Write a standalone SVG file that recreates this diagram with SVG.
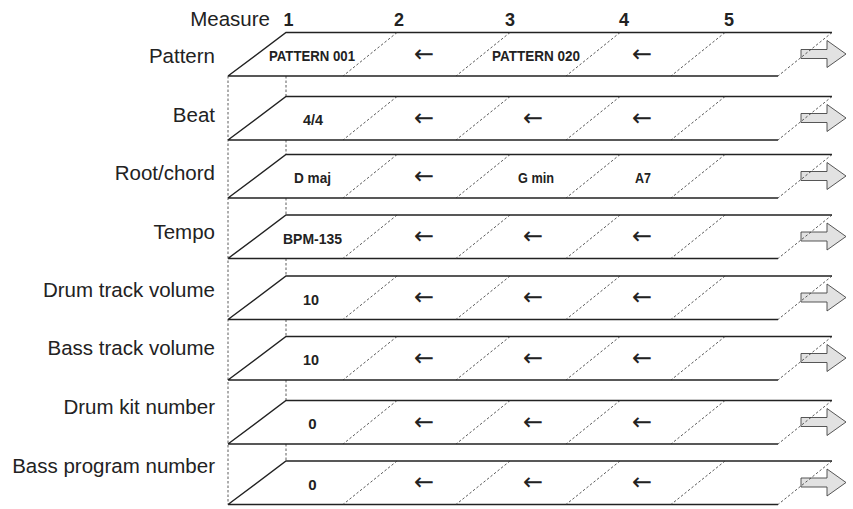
<svg xmlns="http://www.w3.org/2000/svg" xmlns:xlink="http://www.w3.org/1999/xlink" width="853" height="509" viewBox="0 0 853 509">
<style>
.lbl{font-family:"Liberation Sans",Arial,sans-serif;font-size:20.5px;fill:#222;text-anchor:end}
.num{font-family:"Liberation Sans",Arial,sans-serif;font-size:18px;font-weight:bold;fill:#222;text-anchor:middle}
.val{font-family:"Liberation Sans",Arial,sans-serif;font-size:15px;font-weight:bold;fill:#222;text-anchor:middle}
.arr{font-family:"DejaVu Sans",sans-serif;font-size:24px;fill:#222;text-anchor:middle}
.solid{fill:none;stroke:#222;stroke-width:1.4}
.dash{fill:none;stroke:#333;stroke-width:0.8;stroke-dasharray:2.5 2}
.big{fill:#e2e2e2;stroke:#444;stroke-width:0.9}
</style>
<defs>
<g id="frame">
<polygon class="big" points="801,17 827,17 827,8 846,21.5 827,35 827,26 801,26"/>
<path class="solid" d="M228,43.5 L286,0 L832,0 M228,43.5 L778,43.5"/>
<path class="dash" d="M397,0 L343,43.5 M510,0 L456,43.5 M620,0 L566,43.5 M725,0 L671,43.5 M832,0 L778,43.5"/>
</g>
</defs>
<rect width="853" height="509" fill="#fff"/>
<g id="header">
<text class="lbl" x="270" y="26">Measure</text>
<text class="num" x="288.5" y="26">1</text>
<text class="num" x="399" y="26">2</text>
<text class="num" x="510" y="26">3</text>
<text class="num" x="624" y="26">4</text>
<text class="num" x="729" y="26">5</text>
</g>
<g id="connectors">
<path class="dash" d="M228,76 L228,504.5 M286,76 L286,96.5 M286,140 L286,154.5 M286,198 L286,215 M286,258.5 L286,276 M286,319.5 L286,336.5 M286,380 L286,400.5 M286,444 L286,461"/>
</g>
<g id="row-pattern">
<text class="lbl" x="215" y="63">Pattern</text>
<use xlink:href="#frame" href="#frame" y="32.5"/>
<text class="val" x="312" y="60.8" textLength="86" lengthAdjust="spacingAndGlyphs">PATTERN 001</text>
<text class="arr" x="424" y="61.5">←</text>
<text class="val" x="536" y="60.8" textLength="88" lengthAdjust="spacingAndGlyphs">PATTERN 020</text>
<text class="arr" x="642" y="61.5">←</text>
</g>
<g id="row-beat">
<text class="lbl" x="215" y="121.5">Beat</text>
<use xlink:href="#frame" href="#frame" y="96.5"/>
<text class="val" x="313" y="125" textLength="20" lengthAdjust="spacingAndGlyphs">4/4</text>
<text class="arr" x="424" y="125.5">←</text>
<text class="arr" x="533" y="125.5">←</text>
<text class="arr" x="642" y="125.5">←</text>
</g>
<g id="row-root">
<text class="lbl" x="215" y="180">Root/chord</text>
<use xlink:href="#frame" href="#frame" y="154.5"/>
<text class="val" x="312.5" y="183" textLength="37" lengthAdjust="spacingAndGlyphs">D maj</text>
<text class="arr" x="424" y="183.5">←</text>
<text class="val" x="536" y="183" textLength="36" lengthAdjust="spacingAndGlyphs">G min</text>
<text class="val" x="643" y="183" textLength="16" lengthAdjust="spacingAndGlyphs">A7</text>
</g>
<g id="row-tempo">
<text class="lbl" x="215" y="238.5">Tempo</text>
<use xlink:href="#frame" href="#frame" y="215"/>
<text class="val" x="312.5" y="243.5" textLength="59" lengthAdjust="spacingAndGlyphs">BPM-135</text>
<text class="arr" x="424" y="244">←</text>
<text class="arr" x="533" y="244">←</text>
<text class="arr" x="642" y="244">←</text>
</g>
<g id="row-drumvol">
<text class="lbl" x="215" y="297">Drum track volume</text>
<use xlink:href="#frame" href="#frame" y="276"/>
<text class="val" x="311" y="304.5" textLength="16" lengthAdjust="spacingAndGlyphs">10</text>
<text class="arr" x="424" y="305">←</text>
<text class="arr" x="533" y="305">←</text>
<text class="arr" x="642" y="305">←</text>
</g>
<g id="row-bassvol">
<text class="lbl" x="215" y="355">Bass track volume</text>
<use xlink:href="#frame" href="#frame" y="336.5"/>
<text class="val" x="311" y="365" textLength="16" lengthAdjust="spacingAndGlyphs">10</text>
<text class="arr" x="424" y="365.5">←</text>
<text class="arr" x="533" y="365.5">←</text>
<text class="arr" x="642" y="365.5">←</text>
</g>
<g id="row-drumkit">
<text class="lbl" x="215" y="414">Drum kit number</text>
<use xlink:href="#frame" href="#frame" y="400.5"/>
<text class="val" x="312.5" y="429">0</text>
<text class="arr" x="424" y="429.5">←</text>
<text class="arr" x="533" y="429.5">←</text>
<text class="arr" x="642" y="429.5">←</text>
</g>
<g id="row-bassprog">
<text class="lbl" x="215" y="472.5">Bass program number</text>
<use xlink:href="#frame" href="#frame" y="461"/>
<text class="val" x="312.5" y="489.5">0</text>
<text class="arr" x="424" y="490">←</text>
<text class="arr" x="533" y="490">←</text>
<text class="arr" x="642" y="490">←</text>
</g>
</svg>
